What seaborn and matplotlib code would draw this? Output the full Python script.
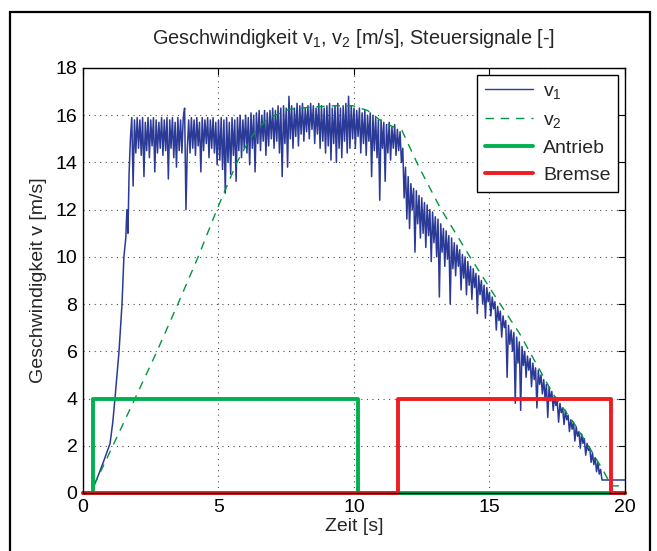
import numpy as np
import pandas as pd
import seaborn as sns
import matplotlib.pyplot as plt
from matplotlib.patches import Rectangle

# v1: start-up ramp
t_rise = [0.40, 0.55, 0.75, 1.00, 1.10, 1.18, 1.33, 1.44, 1.51, 1.58, 1.62, 1.66,
          1.70, 1.75, 1.80, 1.85, 1.90, 1.95]
v_rise = [0.3, 0.7, 1.3, 2.1, 3.0, 4.0, 6.0, 8.0, 10.0, 10.8, 12.0, 11.0,
          13.5, 15.0, 15.9, 13.0, 15.8, 14.4]

# v1: noisy part, one row per second, sampled every 0.05 s from 2.0 s
v_noise_rows = [
    [15.9, 14.6, 15.8, 14.3, 15.9, 13.4, 15.7, 14.5, 15.9, 14.2, 15.8, 14.7, 15.9, 13.6, 15.8, 14.4, 15.7, 14.6, 15.9, 14.3],
    [15.8, 14.5, 15.9, 13.3, 15.8, 14.6, 15.9, 14.2, 15.7, 13.8, 15.9, 14.5, 15.8, 14.4, 15.9, 16.3, 12.0, 14.6, 15.8, 14.4],
    [15.9, 14.6, 15.8, 14.3, 15.9, 14.7, 15.7, 13.6, 15.9, 14.5, 15.8, 14.8, 15.9, 14.2, 15.8, 14.6, 15.9, 14.4, 15.7, 13.9],
    [15.8, 14.1, 15.9, 13.7, 15.8, 12.7, 15.9, 14.0, 15.7, 13.5, 15.9, 14.3, 15.8, 13.2, 15.9, 14.5, 16.0, 14.2, 15.8, 14.6],
    [16.0, 14.4, 15.9, 13.9, 16.1, 14.6, 16.0, 13.6, 16.1, 14.8, 16.2, 14.5, 16.0, 14.9, 16.2, 14.3, 16.1, 14.7, 16.2, 15.0],
    [16.3, 14.6, 16.2, 14.9, 16.4, 14.4, 16.3, 13.4, 16.4, 14.8, 16.3, 13.8, 16.8, 15.0, 16.4, 14.6, 16.3, 15.1, 16.5, 14.7],
    [16.4, 15.2, 16.5, 14.9, 16.3, 15.3, 16.4, 15.0, 16.5, 15.4, 16.4, 14.8, 16.3, 15.2, 16.5, 14.6, 16.4, 14.9, 16.3, 14.4],
    [16.4, 14.7, 16.5, 14.1, 16.3, 14.8, 16.4, 14.0, 16.5, 14.6, 16.3, 14.2, 16.4, 14.9, 16.5, 14.4, 16.8, 14.6, 16.4, 15.0],
    [16.3, 14.6, 16.2, 15.1, 16.3, 14.4, 16.1, 14.8, 16.2, 14.3, 16.0, 14.9, 16.1, 13.4, 16.0, 14.5, 15.9, 14.2, 15.8, 12.4],
    [15.8, 14.6, 15.7, 13.2, 15.6, 14.4, 15.7, 14.1, 15.5, 14.6, 15.6, 14.3, 15.4, 14.5, 15.3, 14.0, 14.6, 12.5, 13.8, 11.6],
    [13.4, 11.2, 13.1, 12.0, 12.9, 10.2, 12.8, 11.4, 12.6, 10.8, 12.5, 11.0, 12.3, 10.4, 12.2, 10.9, 12.0, 9.8, 11.9, 10.6],
    [11.7, 10.0, 11.6, 8.3, 11.4, 10.2, 11.2, 9.6, 11.1, 9.9, 10.9, 8.0, 10.8, 9.5, 10.6, 9.2, 10.5, 9.6, 10.3, 8.6],
    [10.1, 9.1, 10.0, 8.4, 9.8, 8.8, 9.6, 8.2, 9.5, 8.7, 9.3, 7.6, 9.2, 8.4, 9.0, 8.0, 8.8, 7.4, 8.7, 8.1],
    [8.5, 7.5, 8.3, 7.8, 8.1, 6.9, 7.9, 7.3, 7.7, 6.6, 7.5, 7.0, 7.3, 4.9, 7.1, 6.3, 6.9, 6.0, 6.8, 3.8],
    [6.6, 5.5, 6.4, 3.5, 6.2, 5.4, 6.0, 4.9, 5.8, 5.2, 5.7, 4.5, 5.5, 4.8, 5.3, 3.6, 5.2, 4.6, 5.0, 4.2],
    [4.8, 4.0, 4.6, 3.2, 4.5, 3.9, 4.3, 3.5, 4.1, 3.7, 3.9, 3.0, 3.8, 3.4, 3.6, 2.9, 3.5, 3.1, 3.3, 2.6],
    [3.1, 2.7, 3.0, 2.2, 2.8, 2.4, 2.6, 1.9, 2.5, 2.1, 2.3, 1.6, 2.1, 1.8, 1.9, 1.3, 1.7, 1.2, 1.5, 0.9],
]

# v1: tail
t_tail = [19.00, 19.05, 19.10, 19.15, 20.00]
v_tail = [1.3, 0.8, 1.0, 0.55, 0.55]

# v2 (smooth, dashed)
t_v2 = [0.40, 1.00, 1.92, 2.73, 3.50, 4.25, 4.94, 5.68, 6.16, 6.50, 6.90, 7.60,
        8.50, 9.30, 9.96, 10.50, 11.07, 11.77, 12.40, 13.17, 14.28, 15.28, 16.10,
        17.34, 18.15, 18.70, 19.20, 19.50, 20.00]
v_v2 = [0.30, 1.75, 4.00, 6.00, 8.00, 10.0, 12.0, 14.0, 15.0, 15.5, 15.9, 16.25,
        16.35, 16.4, 16.4, 16.2, 15.7, 15.35, 13.8, 12.1, 10.0, 8.2, 6.77,
        4.2, 2.9, 1.9, 0.94, 0.3, 0.3]

# control signals (switching times, level after switch)
antrieb_t = [0.0, 0.37, 10.15, 20.0]
antrieb_v = [0, 4, 0, 0]
bremse_t = [0.0, 11.62, 19.48, 20.0]
bremse_v = [0, 4, 0, 0]

t_noise = np.round(np.arange(2.0, 19.0, 0.05), 2)
v_noise = [v for row in v_noise_rows for v in row]
assert len(t_noise) == len(v_noise)

v1 = pd.DataFrame({
    "t": list(t_rise) + list(t_noise) + t_tail,
    "v": v_rise + v_noise + v_tail,
})

sns.set_style("white")
plt.rcParams["font.family"] = ["Liberation Sans", "DejaVu Sans"]
plt.rcParams["mathtext.fontset"] = "custom"
plt.rcParams["mathtext.rm"] = "Liberation Sans"
plt.rcParams["mathtext.it"] = "Liberation Sans:italic"
plt.rcParams["mathtext.default"] = "regular"

fig = plt.figure(figsize=(6.57, 5.51), dpi=100)
ax = fig.add_axes([0.1263, 0.1053, 0.8250, 0.7713])

sns.lineplot(data=v1, x="t", y="v", ax=ax, color="#2B3A97", lw=1.1,
             label="v$_1$", estimator=None, sort=False)
sns.lineplot(x=t_v2, y=v_v2, ax=ax, color="#00963F", lw=1.0, ls=(0, (6, 5)),
             label="v$_2$", estimator=None, sort=False)
sns.lineplot(x=antrieb_t, y=antrieb_v, ax=ax, color="#00B04F", lw=2.8,
             drawstyle="steps-post", label="Antrieb", estimator=None,
             sort=False, clip_on=False)
sns.lineplot(x=bremse_t, y=bremse_v, ax=ax, color="#EE1D23", lw=2.8,
             drawstyle="steps-post", label="Bremse", estimator=None,
             sort=False, clip_on=False)

ax.set_xlim(0, 20)
ax.set_ylim(0, 18)
ax.set_xticks(range(0, 21, 5))
ax.set_yticks(range(0, 19, 2))
ax.tick_params(direction="in", top=True, right=True, length=5, width=0.8,
               labelsize=14, pad=4, colors="black")
ax.grid(True, linestyle=(0, (1, 4)), color="0.3", lw=0.8)
for s in ax.spines.values():
    s.set_color("black")
    s.set_linewidth(1.0)

ax.set_title("Geschwindigkeit v$_1$, v$_2$ [m/s], Steuersignale [-]",
             fontsize=14.3, pad=17)
ax.set_xlabel("Zeit [s]", fontsize=14, labelpad=2)
ax.set_ylabel("Geschwindigkeit v [m/s]", fontsize=14, labelpad=6)

leg = ax.legend(loc="upper right", fontsize=14, frameon=True, fancybox=False,
                edgecolor="black", framealpha=1, borderaxespad=0.35,
                handlelength=2.5, handletextpad=0.5, borderpad=0.4,
                labelspacing=0.5)
leg.get_frame().set_linewidth(1.0)
for h in leg.get_lines():
    if h.get_linewidth() < 2:
        h.set_linewidth(1.0)

fig.patches.append(Rectangle((0.0152, -0.02), 0.974, 0.998, transform=fig.transFigure,
                             fill=False, ec="black", lw=1.6))

fig.savefig("out.png", dpi=100)
